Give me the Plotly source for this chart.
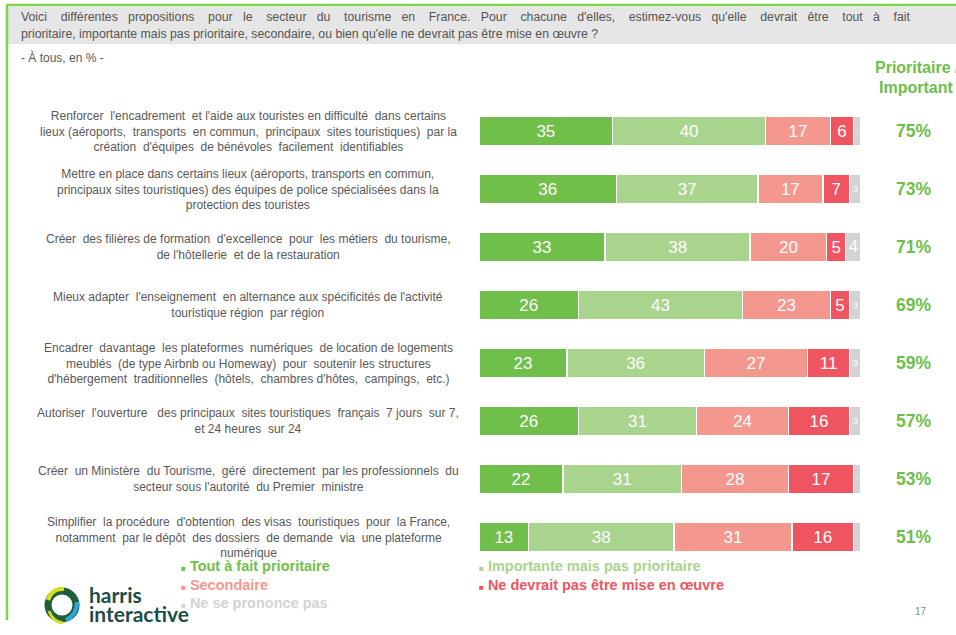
import plotly.graph_objects as go

W, H = 956, 635

labels = [
    "Renforcer  l'encadrement  et l'aide aux touristes en difficulté  dans certains<br>lieux (aéroports,  transports  en commun,  principaux  sites touristiques)  par la<br>création  d'équipes  de bénévoles  facilement  identifiables",
    "Mettre en place dans certains lieux (aéroports, transports en commun,<br>principaux sites touristiques) des équipes de police spécialisées dans la<br>protection des touristes",
    "Créer  des filières de formation  d'excellence  pour  les métiers  du tourisme,<br>de l'hôtellerie  et de la restauration",
    "Mieux adapter  l'enseignement  en alternance aux spécificités de l'activité<br>touristique région  par région",
    "Encadrer  davantage  les plateformes  numériques  de location de logements<br>meublés  (de type Airbnb ou Homeway)  pour  soutenir les structures<br>d'hébergement  traditionnelles  (hôtels,  chambres d'hôtes,  campings,  etc.)",
    "Autoriser  l'ouverture   des principaux  sites touristiques  français  7 jours  sur 7,<br>et 24 heures  sur 24",
    "Créer  un Ministère  du Tourisme,  géré  directement  par les professionnels  du<br>secteur sous l'autorité  du Premier  ministre",
    "Simplifier  la procédure  d'obtention  des visas  touristiques  pour  la France,<br>notamment  par le dépôt  des dossiers  de demande  via  une plateforme<br>numérique",
]
cats = [f"r{i}" for i in range(len(labels))]

series_names = [
    "Tout à fait prioritaire",
    "Importante mais pas prioritaire",
    "Secondaire",
    "Ne devrait pas être mise en œuvre",
    "Ne se prononce pas",
]
tout_a_fait = [35, 36, 33, 26, 23, 26, 22, 13]
importante = [40, 37, 38, 43, 36, 31, 31, 38]
secondaire = [17, 17, 20, 23, 27, 24, 28, 31]
ne_devrait = [6, 7, 5, 5, 11, 16, 17, 16]
nsp = [2, 3, 4, 3, 3, 3, 2, 2]
prioritaire_important = [75, 73, 71, 69, 59, 57, 53, 51]

colors = ["#70BF4A", "#A9D48E", "#F4978E", "#EF5560", "#D3D3D3"]
values = [tout_a_fait, importante, secondaire, ne_devrait, nsp]

FONT = "Liberation Sans, Arial"

fig = go.Figure()
for name, vals, col in zip(series_names, values, colors):
    fig.add_trace(go.Bar(
        y=cats, x=vals, orientation="h", name=name,
        marker=dict(color=col, line=dict(color="white", width=1.5)),
        text=[str(v) for v in vals], textposition="inside",
        insidetextanchor="middle",
        textfont=dict(family=FONT, size=17, color="white"),
        width=0.52, showlegend=False, hoverinfo="skip",
    ))

def px_x(p):
    return p / W

def px_y(p):
    return 1 - p / H

# Row labels
for c, lab in zip(cats, labels):
    fig.add_annotation(x=px_x(248), y=c, xref="paper", yref="y", text=lab,
                       showarrow=False, align="center", xanchor="center", yanchor="middle",
                       font=dict(family=FONT, size=12, color="#595959"))

# Percent totals
for c, v in zip(cats, prioritaire_important):
    fig.add_annotation(x=px_x(913), y=c, xref="paper", yref="y", text=f"<b>{v}%</b>",
                       showarrow=False, xanchor="center", yanchor="middle",
                       font=dict(family=FONT, size=17.5, color="#6CC04A"))

# Column header
fig.add_annotation(x=px_x(873), y=px_y(68), xref="paper", yref="paper",
                   text="<b>Prioritaire /</b>", showarrow=False,
                   xanchor="left", yanchor="middle",
                   font=dict(family=FONT, size=16, color="#6CC04A"))
fig.add_annotation(x=px_x(916), y=px_y(87), xref="paper", yref="paper",
                   text="<b>Important</b>", showarrow=False,
                   xanchor="center", yanchor="middle",
                   font=dict(family=FONT, size=16, color="#6CC04A"))

# Question header (justified first line)
line1_words = ["Voici", "différentes", "propositions", "pour", "le", "secteur", "du", "tourisme",
               "en", "France.", "Pour", "chacune", "d'elles,", "estimez-vous", "qu'elle",
               "devrait", "être", "tout", "à", "fait"]
line1 = ""
for i, w in enumerate(line1_words):
    line1 += w
    if i < len(line1_words) - 1:
        line1 += "    " if i % 2 == 0 else "   "
line2 = "prioritaire, importante mais pas prioritaire, secondaire, ou bien qu'elle ne devrait pas être mise en œuvre ?"
fig.add_annotation(x=px_x(19), y=px_y(17), xref="paper", yref="paper", text=line1,
                   showarrow=False, xanchor="left", yanchor="middle", align="left",
                   font=dict(family=FONT, size=12.3, color="#555555"))
fig.add_annotation(x=px_x(19), y=px_y(34), xref="paper", yref="paper", text=line2,
                   showarrow=False, xanchor="left", yanchor="middle", align="left",
                   font=dict(family=FONT, size=12.3, color="#555555"))
fig.add_annotation(x=px_x(19), y=px_y(57), xref="paper", yref="paper", text="- À tous, en % -",
                   showarrow=False, xanchor="left", yanchor="middle",
                   font=dict(family=FONT, size=12, color="#595959"))

# Legend (as annotations)
legend_pos = [(179, 566), (477, 566), (179, 585), (477, 585), (179, 603)]
for (lx, ly), name, col in zip(legend_pos, series_names, colors):
    fig.add_annotation(x=px_x(lx), y=px_y(ly), xref="paper", yref="paper",
                       text=f"<span style='font-size:8px'>■</span> <b>{name}</b>",
                       showarrow=False, xanchor="left", yanchor="middle",
                       font=dict(family=FONT, size=14.5, color=col))

# Logo text
fig.add_annotation(x=px_x(87), y=px_y(594), xref="paper", yref="paper", text="<b>harris</b>",
                   showarrow=False, xanchor="left", yanchor="middle",
                   font=dict(family="Lato, Liberation Sans", size=21, color="#1E4D47"))
fig.add_annotation(x=px_x(87), y=px_y(613), xref="paper", yref="paper", text="<b>interactive</b>",
                   showarrow=False, xanchor="left", yanchor="middle",
                   font=dict(family="Lato, Liberation Sans", size=21, color="#1E4D47"))
# page number
fig.add_annotation(x=px_x(921), y=px_y(611), xref="paper", yref="paper", text="17",
                   showarrow=False, xanchor="center", yanchor="middle",
                   font=dict(family=FONT, size=10, color="#8A8A8A"))

shapes = [
    dict(type="rect", xref="paper", yref="paper", x0=px_x(8), x1=1, y0=px_y(44), y1=px_y(7),
         fillcolor="#E6E6E6", line=dict(width=0), layer="below"),
    dict(type="line", xref="paper", yref="paper", x0=px_x(6), x1=1, y0=px_y(5), y1=px_y(5),
         line=dict(color="#7ED34F", width=2.5)),
    dict(type="line", xref="paper", yref="paper", x0=px_x(7), x1=px_x(7), y0=px_y(4), y1=px_y(620),
         line=dict(color="#7ED34F", width=2.5)),
    dict(type="circle", xref="paper", yref="paper", x0=px_x(48), x1=px_x(76), y0=px_y(619), y1=px_y(591),
         line=dict(color="#1E5E3A", width=7)),
    dict(type="path", xref="paper", yref="paper",
         path=f"M {px_x(48)} {px_y(600)} Q {px_x(52)} {px_y(588)} {px_x(64)} {px_y(589)}",
         line=dict(color="#D6E021", width=4)),
    dict(type="path", xref="paper", yref="paper",
         path=f"M {px_x(66)} {px_y(620)} Q {px_x(77)} {px_y(615)} {px_x(77)} {px_y(602)}",
         line=dict(color="#2AA7DE", width=4)),
    dict(type="path", xref="paper", yref="paper",
         path=f"M {px_x(49)} {px_y(611)} Q {px_x(53)} {px_y(622)} {px_x(63)} {px_y(623)}",
         line=dict(color="#C9DC2A", width=3)),
]

fig.update_layout(
    width=W, height=H, margin=dict(l=0, r=0, t=0, b=0),
    paper_bgcolor="white", plot_bgcolor="white",
    barmode="stack", bargap=0.48,
    xaxis=dict(domain=[px_x(479), px_x(861)], range=[0, 100], visible=False, fixedrange=True),
    yaxis=dict(domain=[px_y(566), px_y(102)], autorange="reversed", visible=False,
               categoryorder="array", categoryarray=cats, fixedrange=True),
    shapes=shapes,
)

fig.write_html("out.html", config={"displayModeBar": False},
               post_script="document.body.style.margin='0';")
